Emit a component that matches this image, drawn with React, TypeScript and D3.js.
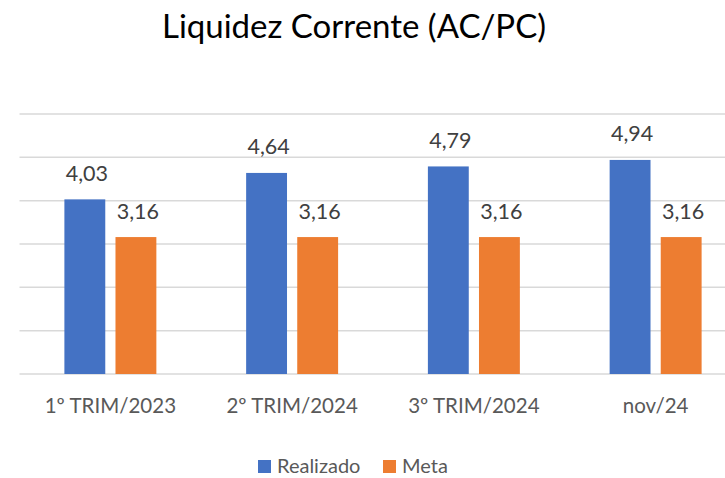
import React, { useEffect, useRef } from 'react';
import * as d3 from 'd3';

const categories = ['1º TRIM/2023', '2º TRIM/2024', '3º TRIM/2024', 'nov/24'];
const seriesNames = ['Realizado', 'Meta'];
const realizado = [4.03, 4.64, 4.79, 4.94];
const meta = [3.16, 3.16, 3.16, 3.16];
const yTicks = [0, 1, 2, 3, 4, 5, 6];
const colors = ['#4472C4', '#ED7D31'];

const W = 725;
const H = 478;
const FONT = 'Lato, "Open Sans", sans-serif';

export default function App() {
  const svgRef = useRef<SVGSVGElement>(null);

  useEffect(() => {
    const svg = d3.select(svgRef.current);
    svg.selectAll('*').remove();

    const plot = { left: 19.5, right: 746.5, top: 114, bottom: 374 };

    const y = d3.scaleLinear().domain([0, 6]).range([plot.bottom, plot.top]);
    const x0 = d3.scaleBand<string>()
      .domain(categories)
      .range([plot.left, plot.right])
      .paddingInner(0.494)
      .paddingOuter(0.247);
    const x1 = d3.scaleBand<string>()
      .domain(seriesNames)
      .range([0, x0.bandwidth()])
      .paddingInner(0.2);

    // title
    svg.append('text')
      .attr('x', 354)
      .attr('y', 38)
      .attr('text-anchor', 'middle')
      .attr('font-family', FONT)
      .attr('font-size', 33)
      .attr('fill', '#000')
      .text('Liquidez Corrente (AC/PC)');

    // gridlines
    svg.append('g')
      .selectAll('line')
      .data(yTicks)
      .enter().append('line')
      .attr('x1', plot.left)
      .attr('x2', W)
      .attr('y1', d => y(d))
      .attr('y2', d => y(d))
      .attr('stroke', '#d9d9d9')
      .attr('stroke-width', 1.5);

    const rows = categories.map((c, i) => ({ cat: c, vals: [realizado[i], meta[i]] }));

    const groups = svg.append('g')
      .selectAll('g')
      .data(rows)
      .enter().append('g')
      .attr('transform', d => `translate(${x0(d.cat)},0)`);

    groups.selectAll('rect')
      .data(d => d.vals.map((v, j) => ({ name: seriesNames[j], v, j })))
      .enter().append('rect')
      .attr('x', d => x1(d.name)!)
      .attr('y', d => y(d.v))
      .attr('width', x1.bandwidth())
      .attr('height', d => plot.bottom - y(d.v))
      .attr('fill', d => colors[d.j]);

    groups.selectAll('text')
      .data(d => d.vals.map((v, j) => ({ name: seriesNames[j], v, j })))
      .enter().append('text')
      .attr('x', d => x1(d.name)! + x1.bandwidth() / 2 + 2)
      .attr('y', d => y(d.v) - 18.5)
      .attr('text-anchor', 'middle')
      .attr('font-family', FONT)
      .attr('font-size', 21.5)
      .attr('fill', '#404040')
      .text(d => d3.format('.2f')(d.v).replace('.', ','));

    // category labels
    svg.append('g')
      .selectAll('text')
      .data(categories)
      .enter().append('text')
      .attr('x', d => x0(d)! + x0.bandwidth() / 2)
      .attr('y', 413)
      .attr('text-anchor', 'middle')
      .attr('font-family', FONT)
      .attr('font-size', 20.5)
      .attr('fill', '#595959')
      .text(d => d);

    // legend
    const legendX = [258, 383];
    const legend = svg.append('g');
    seriesNames.forEach((name, i) => {
      legend.append('rect')
        .attr('x', legendX[i])
        .attr('y', 460)
        .attr('width', 13)
        .attr('height', 13)
        .attr('fill', colors[i]);
      legend.append('text')
        .attr('x', legendX[i] + 19)
        .attr('y', 473)
        .attr('font-family', FONT)
        .attr('font-size', 20)
        .attr('fill', '#595959')
        .text(name);
    });
  }, []);

  return (
    <svg ref={svgRef} width={W} height={H} style={{ display: 'block', position: 'absolute', left: 0, top: 0, background: '#fff' }} />
  );
}
